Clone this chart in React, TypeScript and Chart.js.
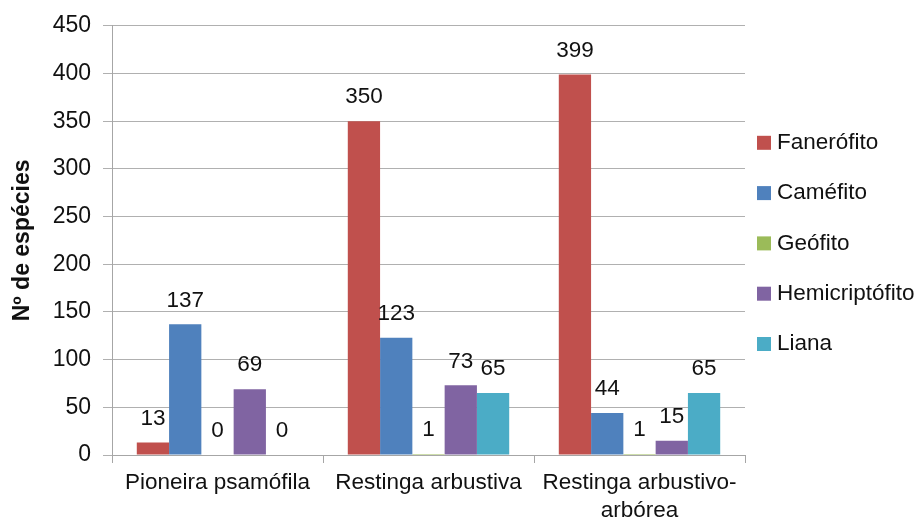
import React, { useEffect, useRef } from 'react';
import { Chart, registerables } from 'chart.js';

Chart.register(...registerables);

const categories: (string | string[])[] = ['Pioneira psamófila', 'Restinga arbustiva', ['Restinga arbustivo-', 'arbórea']];
const seriesNames = ['Fanerófito', 'Caméfito', 'Geófito', 'Hemicriptófito', 'Liana'];
const fanerofito = [13, 350, 399];
const camefito = [137, 123, 44];
const geofito = [0, 1, 1];
const hemicriptofito = [69, 73, 15];
const liana = [0, 65, 65];
const seriesColors = ['#C0504D', '#4F81BD', '#9BBB59', '#8064A2', '#4BACC6'];
const yMin = 0;
const yMax = 450;
const yStep = 50;
const yTitle = 'Nº de espécies';

const FONT = "'Liberation Sans', Arial, sans-serif";

const valueLabels = {
  id: 'valueLabels',
  afterDatasetsDraw(chart: any) {
    const ctx = chart.ctx;
    ctx.save();
    ctx.font = `22.5px ${FONT}`;
    ctx.fillStyle = '#111';
    ctx.textAlign = 'center';
    ctx.textBaseline = 'middle';
    chart.data.datasets.forEach((ds: any, i: number) => {
      const meta = chart.getDatasetMeta(i);
      meta.data.forEach((el: any, j: number) => {
        ctx.fillText(String(ds.data[j]), el.x, el.y - 24);
      });
    });
    ctx.restore();
  },
};

const sideLegend = {
  id: 'sideLegend',
  afterDraw(chart: any) {
    const ctx = chart.ctx;
    const area = chart.chartArea;
    const n = chart.data.datasets.length;
    const spacing = 50.3;
    const cy = (area.top + area.bottom) / 2 + 3;
    const x0 = area.right + 12;
    ctx.save();
    ctx.font = `22.5px ${FONT}`;
    ctx.textBaseline = 'middle';
    ctx.textAlign = 'left';
    chart.data.datasets.forEach((ds: any, i: number) => {
      const y = cy + (i - (n - 1) / 2) * spacing;
      ctx.fillStyle = ds.backgroundColor;
      ctx.fillRect(x0, y - 7, 14, 14);
      ctx.fillStyle = '#111';
      ctx.fillText(ds.label, x0 + 20, y);
    });
    ctx.restore();
  },
};

export default function App() {
  const ref = useRef<HTMLCanvasElement>(null);
  useEffect(() => {
    if (!ref.current) return;
    const seriesData = [fanerofito, camefito, geofito, hemicriptofito, liana];
    const chart = new Chart(ref.current, {
      type: 'bar',
      data: {
        labels: categories,
        datasets: seriesNames.map((name, i) => ({
          label: name,
          data: seriesData[i],
          backgroundColor: seriesColors[i],
          borderWidth: 0,
          categoryPercentage: 0.765,
          barPercentage: 1,
        })),
      },
      options: {
        responsive: false,
        animation: false,
        layout: { padding: { top: 24, right: 173, bottom: 0, left: 0 } },
        plugins: {
          legend: { display: false },
          tooltip: { enabled: false },
        },
        scales: {
          x: {
            afterFit: (s: any) => { s.height = 74; },
            grid: {
              offset: true,
              drawOnChartArea: false,
              drawTicks: true,
              tickLength: 8,
              color: '#a6a6a6',
            },
            border: { display: true, color: '#a6a6a6' },
            ticks: {
              color: '#111',
              padding: 6,
              maxRotation: 0,
              font: { family: FONT, size: 22.5, lineHeight: 1.25 },
            },
          },
          y: {
            min: yMin,
            max: yMax,
            afterFit: (s: any) => { s.width = 112; },
            grid: { color: '#b0b0b0', tickLength: 9 },
            border: { display: true, color: '#a6a6a6' },
            ticks: {
              stepSize: yStep,
              color: '#111',
              padding: 12,
              font: { family: FONT, size: 23 },
            },
            title: {
              display: true,
              text: yTitle,
              color: '#111',
              padding: { top: 9, bottom: 4 },
              font: { family: FONT, size: 23, weight: 'bold' },
            },
          },
        },
      },
      plugins: [valueLabels, sideLegend],
    });
    return () => chart.destroy();
  }, []);
  return (
    <div style={{ position: 'absolute', left: 0, top: 0, width: 918, height: 529, background: '#fff' }}>
      <canvas ref={ref} width={918} height={529} />
    </div>
  );
}
